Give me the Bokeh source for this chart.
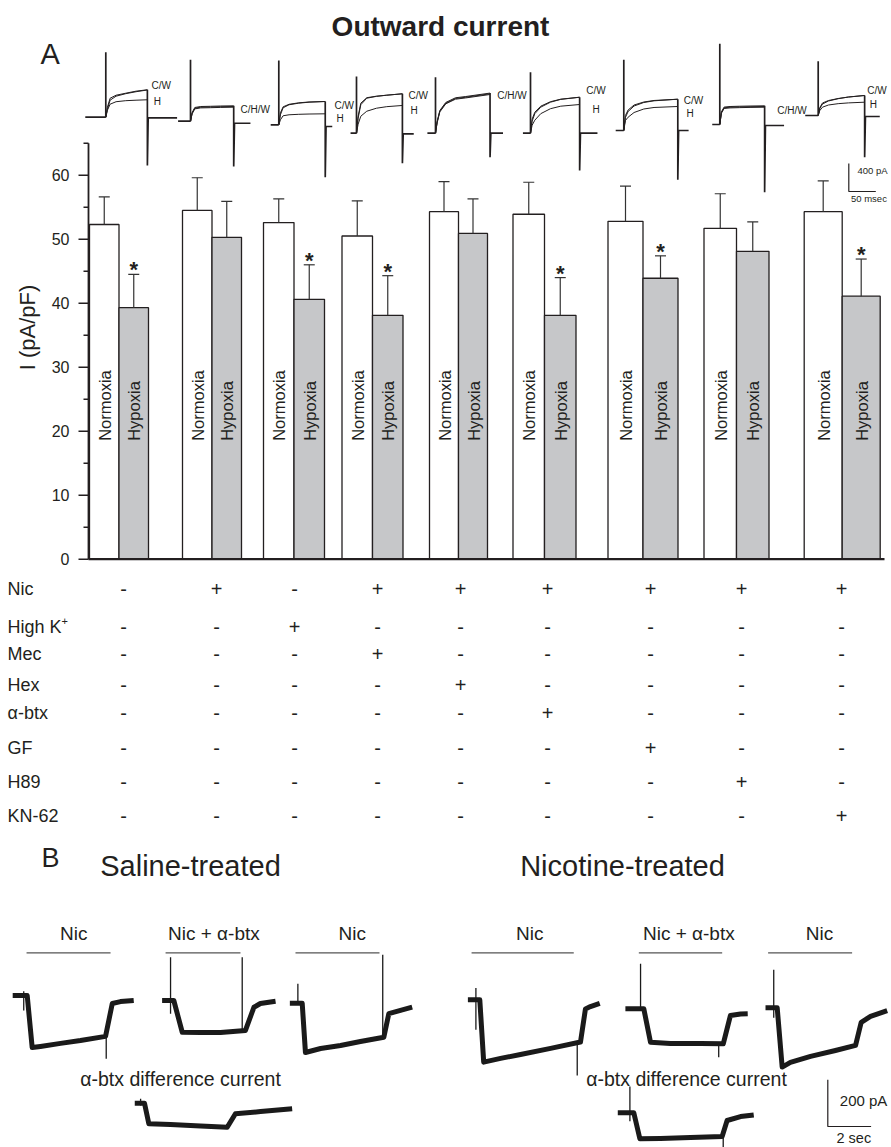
import numpy as np
from bokeh.plotting import figure
from bokeh.models import Range1d
from bokeh.core.properties import value
from bokeh.embed import file_html
from bokeh.resources import INLINE

FONT = "Liberation Sans"
INK = "#231f20"

# ---------------- Panel A: bar chart data ----------------
conditions = ["Control", "Nic", "High K+", "Nic+Mec", "Nic+Hex", "Nic+a-btx", "Nic+GF", "Nic+H89", "Nic+KN-62"]
normoxia_mean = [52.3, 54.5, 52.6, 50.5, 54.3, 53.9, 52.8, 51.7, 54.3]
normoxia_sem = [4.3, 5.1, 3.7, 5.5, 4.7, 5.0, 5.5, 5.4, 4.8]
hypoxia_mean = [39.3, 50.3, 40.6, 38.1, 50.9, 38.1, 43.9, 48.1, 41.1]
hypoxia_sem = [5.2, 5.6, 5.4, 6.2, 5.4, 5.9, 3.5, 4.6, 5.8]
significant = [True, False, True, True, False, True, True, False, True]
y_ticks = [0, 10, 20, 30, 40, 50, 60]
y_minor = [5, 15, 25, 35, 45, 55, 65]
y_max = 65

row_labels = ["Nic", "High K", "Mec", "Hex", "\u03b1-btx", "GF", "H89", "KN-62"]
treatment_table = [
    ["-", "+", "-", "+", "+", "+", "+", "+", "+"],
    ["-", "-", "+", "-", "-", "-", "-", "-", "-"],
    ["-", "-", "-", "+", "-", "-", "-", "-", "-"],
    ["-", "-", "-", "-", "+", "-", "-", "-", "-"],
    ["-", "-", "-", "-", "-", "+", "-", "-", "-"],
    ["-", "-", "-", "-", "-", "-", "+", "-", "-"],
    ["-", "-", "-", "-", "-", "-", "-", "+", "-"],
    ["-", "-", "-", "-", "-", "-", "-", "-", "+"],
]

# ---------------- Panel A: outward current traces (ms, pA from step onset/baseline) ----
ta_t = [
    [0, 3, 8, 19, 37, 56, 77],
    [0, 3, 8, 19, 37, 56, 80],
    [0, 3, 8, 19, 37, 56, 86],
    [0, 3, 8, 19, 37, 56, 85],
    [0, 3, 8, 19, 37, 56, 101],
    [0, 3, 8, 19, 37, 56, 91],
    [0, 3, 8, 19, 37, 56, 100],
    [0, 3, 8, 19, 37, 56, 83],
    [0, 3, 8, 19, 37, 56, 86],
]
ta_control = [
    [0, 143, 271, 314, 343, 372, 392],
    [0, 124, 196, 210, 213, 217, 220],
    [0, 171, 257, 293, 314, 326, 333],
    [0, 243, 429, 507, 529, 543, 563],
    [0, 167, 324, 439, 506, 524, 573],
    [0, 200, 300, 386, 450, 486, 514],
    [0, 214, 293, 364, 407, 429, 447],
    [0, 181, 249, 257, 261, 264, 267],
    [0, 114, 179, 214, 243, 264, 286],
]
ta_washout = [
    [0, 114, 243, 300, 336, 364, 389],
    [0, 114, 186, 200, 203, 207, 210],
    [0, 143, 243, 286, 309, 323, 333],
    [0, 214, 407, 500, 526, 543, 563],
    [0, 157, 314, 429, 496, 514, 563],
    [0, 171, 279, 372, 443, 483, 514],
    [0, 186, 271, 350, 400, 424, 447],
    [0, 171, 239, 247, 251, 254, 257],
    [0, 100, 164, 207, 240, 264, 286],
]
ta_hypoxia = [
    [0, 100, 186, 221, 236, 243, 249],
    [0, 104, 176, 190, 193, 197, 200],
    [0, 71, 129, 143, 150, 154, 157],
    [0, 129, 243, 314, 357, 379, 396],
    [0, 147, 304, 419, 486, 504, 553],
    [0, 114, 186, 279, 350, 386, 410],
    [0, 143, 190, 257, 307, 329, 343],
    [0, 161, 229, 237, 241, 244, 247],
    [0, 71, 119, 150, 169, 180, 190],
]
ta_spike = [929, 877, 919, 810, 800, 872, 1010, 1153, 776]
ta_tail = [-690, -647, -749, -429, -343, -533, -705, -967, -596]
ta_pre = [-38, -23, -15, -11, -15, -14, -15, -14, -24]
ta_post_end = [132, 111, 99, 106, 125, 124, 120, 119, 114]
ta_post_level = [-9, -29, -24, -9, 0, 0, 0, -14, -14]
ta_labels = [["C/W", "H"], ["C/H/W"], ["C/W", "H"], ["C/W", "H"], ["C/H/W"],
             ["C/W", "H"], ["C/W", "H"], ["C/H/W"], ["C/W", "H"]]
scale_a_pa, scale_a_ms = 400, 50

# ---------------- Panel B: nicotinic currents (s, pA from application onset) ----
b_names = ["Saline Nic", "Saline Nic+a-btx", "Saline Nic", "Saline difference",
           "Nicotine Nic", "Nicotine Nic+a-btx", "Nicotine Nic", "Nicotine difference"]
b_t = [
    [-0.67, 0, 0.23, 0.61, 1.54, 2.46, 3.62, 3.93, 4.31, 4.92],
    [-0.54, 0, 0.39, 1.23, 2.16, 3.31, 3.70, 4.00, 4.70],
    [-0.57, 0, 0.15, 0.85, 1.77, 2.69, 3.77, 4.00, 4.54, 5.08],
    [-0.45, 0, 0.20, 1.20, 2.59, 3.82, 4.20, 5.36, 6.82],
    [-0.55, 0, 0.18, 0.96, 1.88, 3.27, 4.65, 4.88, 5.11, 5.54],
    [-0.85, 0, 0.31, 1.23, 2.62, 3.67, 4.00, 4.47, 4.80],
    [-0.54, 0, 0.23, 0.61, 1.54, 2.69, 3.62, 3.88, 4.31, 5.08],
    [-0.74, 0, 0.28, 1.23, 2.62, 4.08, 4.31, 4.93, 5.54],
]
b_i = [
    [0, 0, -223, -218, -205, -193, -175, -34, -26, -21],
    [0, 0, -136, -137, -137, -128, -29, -13, -3],
    [0, 0, -211, -194, -181, -164, -146, -45, -31, -17],
    [0, 0, -88, -91, -98, -103, -45, -36, -24],
    [0, 0, -267, -251, -234, -208, -181, -39, -29, -15],
    [0, 0, -143, -149, -149, -150, -29, -22, -21],
    [0, 0, -254, -234, -208, -183, -161, -62, -37, -12],
    [0, 0, -111, -110, -106, -101, -33, -16, -9],
]
b_artifacts = [
    [(-0.16, 18, -64), (3.65, -171, -271)],
    [(-0.15, 185, -57), (3.16, 185, -128)],
    [(-0.20, 83, 0), (3.72, 208, -143)],
    [(-0.18, 19, -10)],
    [(-0.18, 51, -128), (4.50, -178, -324)],
    [(-0.15, 193, 0), (3.46, -149, -207)],
    [(-0.16, 163, -43)],
    [(-0.18, 113, -36), (4.13, -101, -148)],
]
b_application = [(-0.03, 3.85), (-0.38, 3.08), (-0.31, 3.57), None,
                 (-0.38, 4.34), (-0.23, 3.62), (-0.42, 3.46), None]
b_app_label = ["Nic", "Nic + \u03b1-btx", "Nic", None, "Nic", "Nic + \u03b1-btx", "Nic", None]
b_app_label_t = [2.15, 1.85, 2.31, None, 2.31, 2.08, 1.95, None]
scale_b_pa, scale_b_s = 200, 2

# ---------------- layout (page pixels) ----------------
W, H = 891, 1147
AXIS_X = 88
Y0_PX, YTOP_PX = 558.7, 142.7
GROUP_X = [118.5, 211.5, 293.5, 372, 458, 544, 642.5, 736, 841.7]
BAR_W = [29.5, 29.5, 30.5, 30.5, 29, 31.5, 35, 32.5, 38]
BAR_LABEL_Y = 18.5
TABLE_X = [123, 216, 294, 377, 460, 547, 650, 741, 841]
TABLE_Y = [588, 626, 653, 684, 712, 747, 781, 815]
TA_ORIGIN = [(105.3, 116.7), (190, 120.7), (278.3, 124.3), (356, 132.7), (435, 132.7),
             (530, 132.7), (623.3, 130), (719.3, 124), (817.7, 115)]
TA_LABEL_POS = [[(151, 85), (153.3, 100.7)], [(240, 109.3)], [(334, 105), (336, 118.3)],
                [(408, 95), (410, 110)], [(496.7, 95)], [(585.7, 90), (592, 109.3)],
                [(683.3, 100), (686, 113.3)], [(776.7, 110)], [(866.7, 90), (869.3, 104)]]
PX_PER_MS = 27.0 / scale_a_ms
PX_PER_PA = 28.0 / scale_a_pa
B_ORIGIN = [(26.7, 995), (173.3, 1000), (301.7, 1002.7), (144, 1102.7),
            (479.3, 999.3), (643.3, 1008.3), (776.7, 1007.3), (633.3, 1112.3)]
PX_PER_S = 43.3 / scale_b_s
PX_PER_PA_B = 46.7 / scale_b_pa
APP_BAR_Y, APP_LABEL_Y = 952.3, 932.7

p = figure(width=W, height=H, x_range=Range1d(0, W), y_range=Range1d(H, 0),
           output_backend="svg", toolbar_location=None,
           x_axis_location=None, y_axis_location=None, min_border=0)
p.grid.visible = False
p.outline_line_color = None
p.background_fill_color = "white"
p.border_fill_color = "white"
k = y_max / (Y0_PX - YTOP_PX)
p.extra_y_ranges = {"I": Range1d(start=k * (Y0_PX - H), end=k * Y0_PX)}


def txt(x, y, s, size, align="left", baseline="middle", angle=0, style="normal", **kw):
    xs = x if isinstance(x, list) else [x]
    ys = y if isinstance(y, list) else [y]
    ss = s if isinstance(s, list) else [s]
    p.text(x=xs, y=ys, text=ss, text_font=value(FONT), text_font_size=size,
           text_align=align, text_baseline=baseline, angle=angle,
           text_font_style=style, text_color=INK, **kw)


# ---- titles ----
txt(440, 26, "Outward current", "28px", align="center", style="bold")
txt(40, 53, "A", "29px")
txt(41, 857, "B", "27px")
txt(190, 865, "Saline-treated", "29px", align="center")
txt(622, 865, "Nicotine-treated", "29px", align="center")

# ---- bars ----
n_x = [g - w / 2 for g, w in zip(GROUP_X, BAR_W)]
h_x = [g + w / 2 for g, w in zip(GROUP_X, BAR_W)]
p.vbar(x=n_x, width=BAR_W, top=normoxia_mean, bottom=0, fill_color="white",
       line_color=INK, line_width=1.3, y_range_name="I")
p.vbar(x=h_x, width=BAR_W, top=hypoxia_mean, bottom=0, fill_color="#c6c7c9",
       line_color=INK, line_width=1.3, y_range_name="I")
xs = n_x + h_x
means = normoxia_mean + hypoxia_mean
tops = [m + s for m, s in zip(means, normoxia_sem + hypoxia_sem)]
p.segment(x0=xs, y0=means, x1=xs, y1=tops, line_color="#333333", line_width=1.2, y_range_name="I")
p.segment(x0=[x - 5.5 for x in xs], y0=tops, x1=[x + 5.5 for x in xs], y1=tops,
          line_color="#333333", line_width=1.2, y_range_name="I")
star_x = [x for x, s in zip(h_x, significant) if s]
star_y = [m + e + 0.7 for m, e, s in zip(hypoxia_mean, hypoxia_sem, significant) if s]
txt(star_x, star_y, ["*"] * len(star_x), "22px", align="center", baseline="alphabetic",
    style="bold", y_range_name="I")
txt([x + 0.5 for x in n_x], [BAR_LABEL_Y] * 9, ["Normoxia"] * 9, "16.5px", angle=np.pi / 2,
    y_range_name="I")
txt([x + 0.5 for x in h_x], [BAR_LABEL_Y] * 9, ["Hypoxia"] * 9, "16.5px", angle=np.pi / 2,
    y_range_name="I")

# ---- y axis (drawn on the "I" scale) ----
p.segment(x0=[AXIS_X], y0=[0], x1=[AXIS_X], y1=[y_max], line_color=INK, line_width=1.8, y_range_name="I")
p.segment(x0=[AXIS_X - 10] * len(y_ticks), y0=y_ticks, x1=[AXIS_X] * len(y_ticks), y1=y_ticks,
          line_color=INK, line_width=1.6, y_range_name="I")
p.segment(x0=[AXIS_X - 5] * len(y_minor), y0=y_minor, x1=[AXIS_X] * len(y_minor), y1=y_minor,
          line_color=INK, line_width=1.6, y_range_name="I")
txt([69] * len(y_ticks), y_ticks, [str(t) for t in y_ticks], "16px", align="right", y_range_name="I")
txt(27, 327, "I (pA/pF)", "22px", align="center", angle=np.pi / 2)
p.segment(x0=[AXIS_X], y0=[0], x1=[884], y1=[0], line_color=INK, line_width=2.2, y_range_name="I")

# ---- treatment table ----
txt([7] * len(row_labels), TABLE_Y, row_labels, "18px")
txt(61, TABLE_Y[1] - 6, "+", "11px")
for r, row in enumerate(treatment_table):
    txt(TABLE_X, [TABLE_Y[r]] * len(row), row, "20px", align="center")

# ---- panel A traces ----
for i in range(len(ta_t)):
    x0, y0 = TA_ORIGIN[i]
    X = lambda t, x0=x0: [x0 + v * PX_PER_MS for v in t]
    Y = lambda a, y0=y0: [y0 - v * PX_PER_PA for v in a]
    t = ta_t[i]
    E = t[-1]
    p.line(X([ta_pre[i], 0]), Y([0, 0]), line_color=INK, line_width=1.7)
    p.line(X([0, 0]), Y([0, ta_spike[i]]), line_color=INK, line_width=1.7)
    for cur in (ta_control[i], ta_washout[i], ta_hypoxia[i]):
        p.line(X(t), Y(cur), line_color=INK, line_width=1.0)
    top = max(ta_control[i][-1], ta_washout[i][-1], ta_hypoxia[i][-1])
    p.line(X([E, E, E + 1.5, ta_post_end[i]]),
           Y([top, ta_tail[i], ta_post_level[i], ta_post_level[i]]),
           line_color=INK, line_width=1.7)
    for lab, (lx, ly) in zip(ta_labels[i], TA_LABEL_POS[i]):
        txt(lx, ly, lab, "10px")

# scale bar A
sbx, sby = 848.3, 191
p.line([sbx, sbx, sbx + scale_a_ms * PX_PER_MS], [sby - scale_a_pa * PX_PER_PA, sby, sby],
       line_color=INK, line_width=1.2)
txt(857, 170, "400 pA", "9.5px")
txt(850.5, 198, "50 msec", "9.5px")

# ---- panel B traces ----
for i in range(len(b_t)):
    x0, y0 = B_ORIGIN[i]
    X = lambda t, x0=x0: [x0 + v * PX_PER_S for v in t]
    Y = lambda a, y0=y0: [y0 - v * PX_PER_PA_B for v in a]
    p.line(X(b_t[i]), Y(b_i[i]), line_color="#1a1a1a", line_width=5, line_join="round")
    for (ta, i_top, i_bot) in b_artifacts[i]:
        p.line(X([ta, ta]), Y([i_top, i_bot]), line_color="#1a1a1a", line_width=1.3)
    if b_application[i] is not None:
        a0, a1 = b_application[i]
        p.line(X([a0, a1]), [APP_BAR_Y, APP_BAR_Y], line_color="#555555", line_width=1.3)
        txt(X([b_app_label_t[i]])[0], APP_LABEL_Y, b_app_label[i], "19px", align="center")

txt(180, 1078, "\u03b1-btx difference current", "19.5px", align="center")
txt(686, 1078, "\u03b1-btx difference current", "19.5px", align="center")

sbx, sby = 827.3, 1126
p.line([sbx, sbx, sbx + scale_b_s * PX_PER_S], [sby - scale_b_pa * PX_PER_PA_B, sby, sby],
       line_color=INK, line_width=1.2)
txt(839.3, 1100, "200 pA", "15px")
txt(836, 1137, "2 sec", "14.5px")

open("out.html", "w").write(file_html(p, INLINE))
